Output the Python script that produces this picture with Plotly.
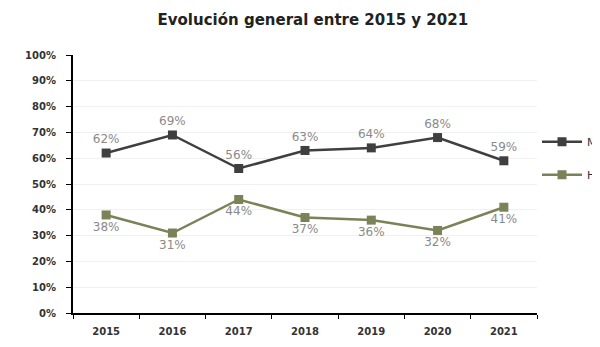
import plotly.graph_objects as go

years = ["2015", "2016", "2017", "2018", "2019", "2020", "2021"]
serie_a = [0.62, 0.69, 0.56, 0.63, 0.64, 0.68, 0.59]
serie_b = [0.38, 0.31, 0.44, 0.37, 0.36, 0.32, 0.41]
names = ["Mujeres", "Hombres"]
y_ticks = [i / 10 for i in range(11)]


def pct(vals):
    return [f"{round(v * 100)}%" for v in vals]


fig = go.Figure()

fig.add_trace(
    go.Scatter(
        x=years,
        y=serie_a,
        name=names[0],
        legendgroup="a",
        mode="lines+markers+text",
        line=dict(color="#3f3f3f", width=2.5),
        marker=dict(symbol="square", size=9, color="#3f3f3f"),
        text=pct(serie_a),
        textposition="top center",
        textfont=dict(family="DejaVu Sans", size=12, color="#8a8a8a"),
    )
)
fig.add_trace(
    go.Scatter(
        x=years,
        y=serie_b,
        name=names[1],
        legendgroup="b",
        mode="lines+markers+text",
        line=dict(color="#7a8257", width=2.5),
        marker=dict(symbol="square", size=9, color="#7a8257"),
        text=pct(serie_b),
        textposition="bottom center",
        textfont=dict(family="DejaVu Sans", size=12, color="#8a8a8a"),
    )
)

fig.update_xaxes(
    type="category",
    range=[-0.5, 6.5],
    showline=True,
    linecolor="black",
    linewidth=1.5,
    ticks="outside",
    tickson="boundaries",
    ticklen=4,
    tickcolor="black",
    showgrid=False,
    ticklabelstandoff=8,
    tickfont=dict(family="DejaVu Sans", size=10, color="#333333", weight="bold"),
)
fig.update_yaxes(
    range=[0, 1],
    tickvals=y_ticks,
    tickformat=".0%",
    showline=True,
    linecolor="black",
    linewidth=2,
    ticks="outside",
    ticklen=5,
    tickcolor="black",
    showgrid=True,
    gridcolor="#f0f0f0",
    zeroline=False,
    ticklabelstandoff=8,
    tickfont=dict(family="DejaVu Sans", size=10, color="#333333", weight="bold"),
)

fig.update_layout(
    width=600,
    height=347,
    paper_bgcolor="white",
    plot_bgcolor="white",
    title=dict(
        text="<b>Evolución general entre 2015 y 2021</b>",
        x=0.508,
        xanchor="center",
        y=0.965,
        yanchor="middle",
        font=dict(family="DejaVu Sans", size=15, color="#222222"),
    ),
    margin=dict(l=65, r=71, t=47, b=42, autoexpand=False),
    showlegend=True,
    legend=dict(
        x=1.0,
        xanchor="left",
        y=0.6,
        yanchor="middle",
        traceorder="grouped",
        tracegroupgap=14,
        itemwidth=40,
        font=dict(family="DejaVu Sans", size=11, color="#333333"),
        bgcolor="rgba(0,0,0,0)",
    ),
)

fig.write_html("out.html")
